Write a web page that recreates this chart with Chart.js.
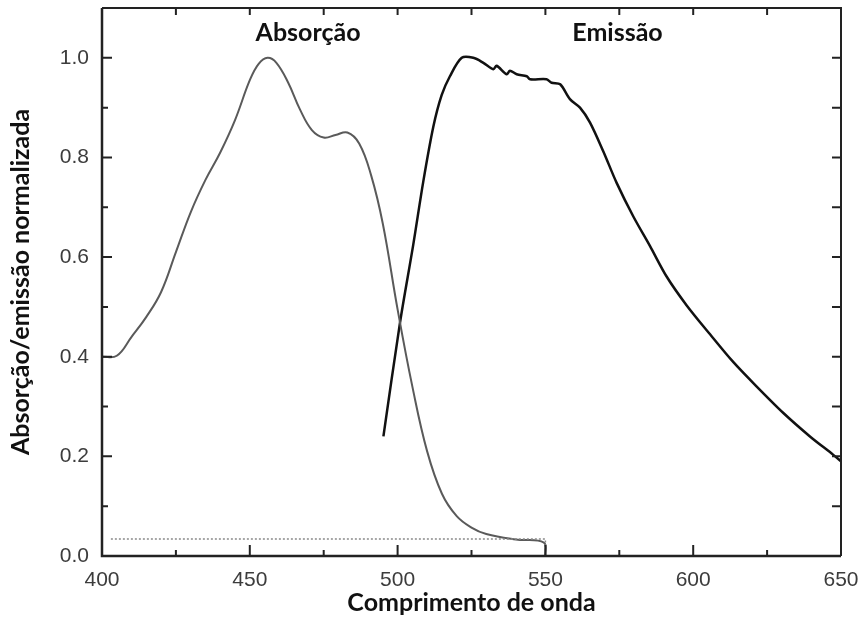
<!DOCTYPE html>
<html>
<head>
<meta charset="utf-8">
<script src="https://cdn.jsdelivr.net/npm/chart.js@4/dist/chart.umd.min.js"></script>
<style>
  html, body { margin: 0; padding: 0; background: #fff; }
  #wrap { width: 861px; height: 637px; position: relative; }
</style>
</head>
<body>
<div id="wrap"><canvas id="c" width="861" height="637"></canvas></div>
<script>
// ---- Data ----
const absWavelength = [400, 405, 410, 415, 420, 425, 430, 435, 440, 445, 450, 453, 456, 459, 463, 467, 471, 475, 479, 483, 487, 491, 495, 500, 505, 510, 515, 520, 525, 530, 540, 549.5, 550];
const absValues     = [0.400, 0.402, 0.440, 0.480, 0.530, 0.610, 0.690, 0.755, 0.810, 0.875, 0.955, 0.988, 1.000, 0.990, 0.950, 0.896, 0.855, 0.840, 0.845, 0.850, 0.828, 0.765, 0.667, 0.495, 0.340, 0.210, 0.125, 0.080, 0.057, 0.044, 0.033, 0.027, 0.0];

const emWavelength = [495.2, 500.8, 505.3, 508.7, 512.1, 514.9, 517.7, 521.7, 525.6, 529.0, 532.4, 533.5, 536.9, 538.0, 540.3, 543.7, 544.8, 550.4, 552.1, 555, 558.3, 561.7, 565.1, 569.6, 574.1, 579.7, 585.4, 591.0, 597.8, 605.7, 613.6, 621.5, 630.5, 639.5, 647.4, 650];
const emValues     = [0.24, 0.468, 0.625, 0.752, 0.862, 0.925, 0.963, 1.0, 1.0, 0.99, 0.977, 0.984, 0.967, 0.974, 0.967, 0.963, 0.957, 0.957, 0.95, 0.947, 0.917, 0.9, 0.87, 0.812, 0.749, 0.682, 0.622, 0.561, 0.503, 0.445, 0.389, 0.34, 0.287, 0.24, 0.203, 0.19];

const baseWavelength = [403, 550, 550];
const baseValues     = [0.034, 0.034, 0.0];

const xMajorTicks = [400, 450, 500, 550, 600, 650];
const xMinorTicks = [425, 475, 525, 575, 625];
const yMajorTicks = [0.0, 0.2, 0.4, 0.6, 0.8, 1.0];
const yMinorTicks = [0.1, 0.3, 0.5, 0.7, 0.9];

const seriesLabels = [
  { text: 'Absorção', x: 469.7, y: 1.049 },
  { text: 'Emissão',  x: 574.4, y: 1.049 }
];

const xTitle = 'Comprimento de onda';
const yTitle = 'Absorção/emissão normalizada';

// ---- Build ----
const toXY = (xs, ys) => xs.map((v, i) => ({ x: v, y: ys[i] }));

const frameAndTicks = {
  id: 'frameAndTicks',
  afterDatasetsDraw(chart) {
    const { ctx, chartArea: a, scales: { x, y } } = chart;
    ctx.save();
    ctx.strokeStyle = '#222';
    ctx.lineCap = 'butt';
    ctx.lineWidth = 2;
    ctx.beginPath();
    ctx.moveTo(a.left, a.top); ctx.lineTo(a.right, a.top); ctx.lineTo(a.right, a.bottom);
    ctx.stroke();
    ctx.lineWidth = 2.5;
    ctx.beginPath();
    ctx.moveTo(a.left, a.top); ctx.lineTo(a.left, a.bottom); ctx.lineTo(a.right, a.bottom);
    ctx.stroke();
    ctx.lineWidth = 2;
    ctx.beginPath();
    xMajorTicks.forEach(v => {
      const p = x.getPixelForValue(v);
      ctx.moveTo(p, a.bottom); ctx.lineTo(p, a.bottom - 11);
      ctx.moveTo(p, a.top); ctx.lineTo(p, a.top + 7);
    });
    xMinorTicks.forEach(v => {
      const p = x.getPixelForValue(v);
      ctx.moveTo(p, a.bottom); ctx.lineTo(p, a.bottom - 6);
      ctx.moveTo(p, a.top); ctx.lineTo(p, a.top + 7);
    });
    yMajorTicks.forEach(v => {
      const p = y.getPixelForValue(v);
      ctx.moveTo(a.left, p); ctx.lineTo(a.left + 10, p);
      ctx.moveTo(a.right, p); ctx.lineTo(a.right - 9, p);
    });
    yMinorTicks.forEach(v => {
      const p = y.getPixelForValue(v);
      ctx.moveTo(a.left, p); ctx.lineTo(a.left + 6, p);
      ctx.moveTo(a.right, p); ctx.lineTo(a.right - 9, p);
    });
    ctx.stroke();
    ctx.fillStyle = '#111';
    ctx.font = 'bold 25px Lato, "Open Sans", sans-serif';
    ctx.textAlign = 'center';
    ctx.textBaseline = 'middle';
    seriesLabels.forEach(l => {
      ctx.fillText(l.text, x.getPixelForValue(l.x), y.getPixelForValue(l.y));
    });
    ctx.restore();
  }
};

new Chart(document.getElementById('c'), {
  type: 'line',
  data: {
    datasets: [
      {
        label: 'Base',
        data: toXY(baseWavelength, baseValues),
        borderColor: '#8a8a8a',
        borderWidth: 1.5,
        borderDash: [2, 2],
        pointRadius: 0,
        tension: 0
      },
      {
        label: 'Absorção',
        data: toXY(absWavelength, absValues),
        borderColor: '#5a5a5a',
        borderWidth: 2,
        pointRadius: 0,
        tension: 0.4
      },
      {
        label: 'Emissão',
        data: toXY(emWavelength, emValues),
        borderColor: '#111',
        borderWidth: 2.5,
        pointRadius: 0,
        tension: 0.3
      }
    ]
  },
  options: {
    responsive: false,
    animation: false,
    layout: { padding: { top: 8, right: 20, left: 0, bottom: 0 } },
    plugins: { legend: { display: false }, tooltip: { enabled: false } },
    scales: {
      x: {
        type: 'linear',
        min: 400, max: 650,
        grid: { display: false, drawTicks: false },
        border: { display: false },
        ticks: {
          stepSize: 50,
          padding: 12,
          color: '#3c3c3c',
          font: { family: '"Liberation Sans", Arial, sans-serif', size: 21 },
          callback: v => String(v)
        },
        title: {
          display: true,
          text: xTitle,
          color: '#111',
          font: { family: 'Lato, "Open Sans", sans-serif', size: 25, weight: 'bold' },
          padding: { top: 0, bottom: 19 }
        },
        afterFit: s => { s.height = 81; s.paddingLeft = 0; s.paddingRight = 0; }
      },
      y: {
        type: 'linear',
        min: 0, max: 1.1,
        grid: { display: false, drawTicks: false },
        border: { display: false },
        ticks: {
          stepSize: 0.2,
          includeBounds: false,
          padding: 13,
          color: '#3c3c3c',
          font: { family: '"Liberation Sans", Arial, sans-serif', size: 21 },
          callback: v => v.toFixed(1)
        },
        title: {
          display: true,
          text: yTitle,
          color: '#111',
          font: { family: 'Lato, "Open Sans", sans-serif', size: 25, weight: 'bold' },
          padding: { top: 6, bottom: 0 }
        },
        afterFit: s => { s.width = 102; s.paddingTop = 0; s.paddingBottom = 0; }
      }
    }
  },
  plugins: [frameAndTicks]
});
</script>
</body>
</html>
